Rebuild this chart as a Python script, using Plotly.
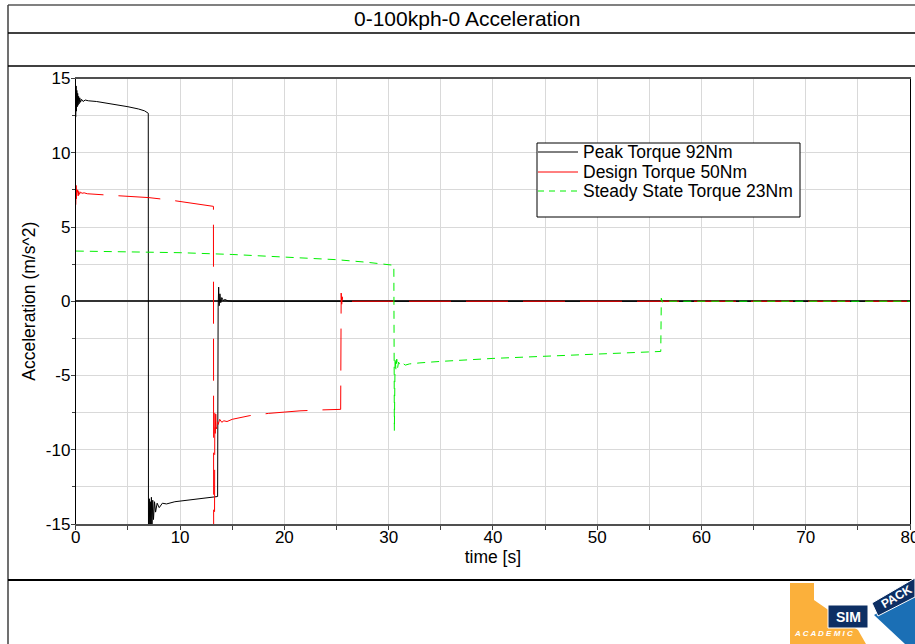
import plotly.graph_objects as go

W, H = 915, 644

# ---- data ----
black_t = [0, 0.03, 0.06, 0.1, 0.14, 0.18, 0.22, 0.27, 0.32, 0.38, 0.45, 0.55, 0.7, 0.9, 1.2, 2, 3, 4, 5, 6, 6.6, 6.95,
           6.97, 7.05, 7.1, 7.15, 7.2, 7.25, 7.3, 7.38, 7.45, 7.55, 7.65, 7.8, 8.0, 8.3, 8.7, 9.5, 10.5, 11.5, 12.5, 13.6,
           13.65, 13.7, 13.75, 13.82, 13.9, 14.0, 14.15, 14.3, 14.6, 15.0, 80]
black_a = [12.4, 14.5, 12.8, 14.2, 13.1, 14.0, 13.2, 13.8, 13.3, 13.7, 13.4, 13.6, 13.45, 13.55, 13.5, 13.45, 13.35, 13.25, 13.1, 12.95, 12.82, 12.66,
           -16, -13.3, -16, -13.5, -16, -13.2, -15.5, -13.4, -14.7, -13.5, -14.2, -13.6, -13.9, -13.6, -13.65, -13.5, -13.42, -13.33, -13.25, -13.15,
           -0.4, 0.95, -0.3, 0.5, -0.1, 0.25, 0.05, 0.12, 0.02, 0.0, 0.0]

red_t = [0, 0.03, 0.06, 0.1, 0.14, 0.18, 0.23, 0.28, 0.35, 0.45, 0.6, 0.8, 1.1, 3, 5, 7, 9, 10.8, 12, 13.2,
         13.22, 13.3, 13.33, 13.37, 13.42, 13.47, 13.55, 13.65, 13.8, 14.0, 14.2, 14.5, 15, 16.7, 18.5, 21.5, 23.5, 25.4,
         25.45, 25.5, 25.55, 25.62, 25.7, 25.85, 26.0, 80]
red_a = [6.5, 7.8, 6.9, 7.6, 7.0, 7.5, 7.1, 7.4, 7.2, 7.35, 7.27, 7.3, 7.24, 7.15, 7.08, 6.98, 6.82, 6.64, 6.52, 6.39,
         -16, -16, -7.5, -8.9, -7.6, -8.6, -7.8, -8.3, -7.95, -8.15, -8.05, -8.1, -7.95, -7.7, -7.55, -7.38, -7.32, -7.28,
         0.55, -0.2, 0.3, -0.1, 0.1, 0.0, 0.0, 0.0]

green_t = [0, 5, 10, 15, 20, 25, 28, 30.5, 30.55, 30.62, 30.7, 30.78, 30.86, 30.95, 31.1, 31.3, 31.6, 32, 33, 35, 40, 45,
           50, 54, 56.1, 56.15, 56.25, 56.4, 80]
green_a = [3.38, 3.35, 3.27, 3.15, 3.0, 2.8, 2.62, 2.42, -8.7, -3.8, -4.6, -3.9, -4.5, -4.1, -4.3, -4.15, -4.3, -4.22, -4.15, -4.05, -3.85, -3.7,
           -3.55, -3.44, -3.38, 0.2, -0.05, 0.0, 0.0]

series_names = ["Peak Torque 92Nm", "Design Torque 50Nm", "Steady State Torque 23Nm"]
series_colors = ["#000000", "#ff0000", "#00f000"]
x_ticks = [0, 10, 20, 30, 40, 50, 60, 70, 80]
x_ticktext = ["0", "10", "20", "30", "40", "50", "60", "70", "80"]
y_ticks = [-15, -10, -5, 0, 5, 10, 15]
y_ticktext = ["-15", "-10", "-5", "0", "5", "10", "15"]

FONT = "Liberation Sans, Arial, Helvetica, sans-serif"


def px(x):
    return x / W


def py(y):
    return 1 - y / H


fig = go.Figure()
fig.add_trace(go.Scatter(x=black_t, y=black_a, mode="lines", name=series_names[0], showlegend=False,
                         line=dict(color=series_colors[0], width=1)))
fig.add_trace(go.Scatter(x=red_t, y=red_a, mode="lines", name=series_names[1], showlegend=False,
                         line=dict(color=series_colors[1], width=1, dash="42px,15px")))
fig.add_trace(go.Scatter(x=green_t, y=green_a, mode="lines", name=series_names[2], showlegend=False,
                         line=dict(color=series_colors[2], width=1, dash="8px,6px")))

shapes = []
# frame lines
shapes.append(dict(type="line", xref="paper", yref="paper", x0=px(8), x1=px(915), y0=py(5), y1=py(5),
                   line=dict(color="#808080", width=2)))
shapes.append(dict(type="line", xref="paper", yref="paper", x0=px(8), x1=px(8), y0=py(5), y1=py(644),
                   line=dict(color="#404040", width=1.5)))
for yy in (33, 66):
    shapes.append(dict(type="line", xref="paper", yref="paper", x0=px(8), x1=px(915), y0=py(yy), y1=py(yy),
                       line=dict(color="#000000", width=1.5)))
shapes.append(dict(type="line", xref="paper", yref="paper", x0=px(8), x1=px(915), y0=py(580), y1=py(580),
                   line=dict(color="#000000", width=2)))

# legend box (drawn)
shapes.append(dict(type="rect", xref="paper", yref="paper", layer="above",
                   x0=px(537), x1=px(800), y0=py(217), y1=py(143),
                   fillcolor="white", line=dict(color="black", width=1)))
legend_rows = [152, 172, 191]
legend_dash = ["solid", "solid", "6px,5px"]
annotations = []
for name, col, dsh, ry in zip(series_names, series_colors, legend_dash, legend_rows):
    shapes.append(dict(type="line", xref="paper", yref="paper", layer="above",
                       x0=px(538), x1=px(578), y0=py(ry), y1=py(ry),
                       line=dict(color=col, width=1, dash=dsh)))
    annotations.append(dict(text=name, x=px(581), y=py(ry), xref="paper", yref="paper", showarrow=False,
                            font=dict(family=FONT, size=17.5, color="black"), xanchor="left", yanchor="middle"))


def path(points):
    return "M " + " L ".join(f"{px(a):.5f},{py(b):.5f}" for a, b in points) + " Z"


# logo (approximation)
shapes.append(dict(type="path", xref="paper", yref="paper", layer="above",
                   path=path([(790, 583), (814, 583), (814, 600), (840, 618), (858, 630), (866, 644), (790, 644)]),
                   fillcolor="#fbb03b", line=dict(width=0)))
shapes.append(dict(type="path", xref="paper", yref="paper", layer="above",
                   path=path([(874, 615), (915, 592), (915, 644), (905, 644)]),
                   fillcolor="#1b6fb5", line=dict(width=0)))
shapes.append(dict(type="path", xref="paper", yref="paper", layer="above",
                   path=path([(872, 603), (915, 578), (915, 597), (878, 616)]),
                   fillcolor="#0d2f63", line=dict(color="white", width=1)))
shapes.append(dict(type="rect", xref="paper", yref="paper", layer="above",
                   x0=px(828), x1=px(868), y0=py(628), y1=py(605),
                   fillcolor="#0d2f63", line=dict(color="white", width=1)))

annotations += [
    dict(text="0-100kph-0 Acceleration", x=px(467), y=py(19), xref="paper", yref="paper",
         showarrow=False, font=dict(family=FONT, size=21, color="black"), xanchor="center", yanchor="middle"),
    dict(text="<b>SIM</b>", x=px(848), y=py(617), xref="paper", yref="paper", showarrow=False,
         font=dict(family=FONT, size=14, color="white"), xanchor="center", yanchor="middle"),
    dict(text="<b>PACK</b>", x=px(896), y=py(597), xref="paper", yref="paper", showarrow=False, textangle=-30,
         font=dict(family=FONT, size=12, color="white"), xanchor="center", yanchor="middle"),
    dict(text="<b><i>A C A D E M I C</i></b>", x=px(823), y=py(633), xref="paper", yref="paper", showarrow=False,
         font=dict(family=FONT, size=8, color="white"), xanchor="center", yanchor="middle"),
]

fig.update_layout(
    width=W, height=H,
    margin=dict(l=0, r=0, t=0, b=0, pad=0, autoexpand=False),
    paper_bgcolor="white", plot_bgcolor="white",
    font=dict(family=FONT, size=16, color="black"),
    shapes=shapes, annotations=annotations,
    showlegend=False,
    xaxis=dict(domain=[px(75.8), px(910)], range=[0, 80], tickvals=x_ticks, ticktext=x_ticktext, automargin=False,
               ticks="outside", ticklen=4, tickcolor="#404040", ticklabelstandoff=-7, ticklabeloverflow="allow",
               showgrid=True, gridcolor="#d9d9d9", gridwidth=1,
               minor=dict(dtick=5, showgrid=True, gridcolor="#d9d9d9", ticks="outside", ticklen=4, tickcolor="#404040"),
               showline=True, linecolor="#505050", linewidth=2, mirror=True,
               zeroline=False,
               tickfont=dict(family=FONT, size=17),
               title=dict(text="time [s]", font=dict(family=FONT, size=17.5), standoff=4)),
    yaxis=dict(domain=[py(524), py(78.5)], range=[-15, 15], tickvals=y_ticks, ticktext=y_ticktext, automargin=False,
               ticks="outside", ticklen=4, tickcolor="#404040", ticklabelstandoff=-3, ticklabeloverflow="allow",
               showgrid=True, gridcolor="#d9d9d9", gridwidth=1,
               minor=dict(dtick=2.5, showgrid=True, gridcolor="#d9d9d9", ticks="outside", ticklen=3, tickcolor="#404040"),
               showline=True, linecolor="#000000", linewidth=1, mirror=True,
               zeroline=True, zerolinecolor="#333333", zerolinewidth=1.5,
               tickfont=dict(family=FONT, size=17),
               title=dict(text="Acceleration (m/s^2)", font=dict(family=FONT, size=17.5), standoff=5)),
)

fig.write_html("out.html", config={"displayModeBar": False},
               post_script="document.body.style.margin='0px';")
